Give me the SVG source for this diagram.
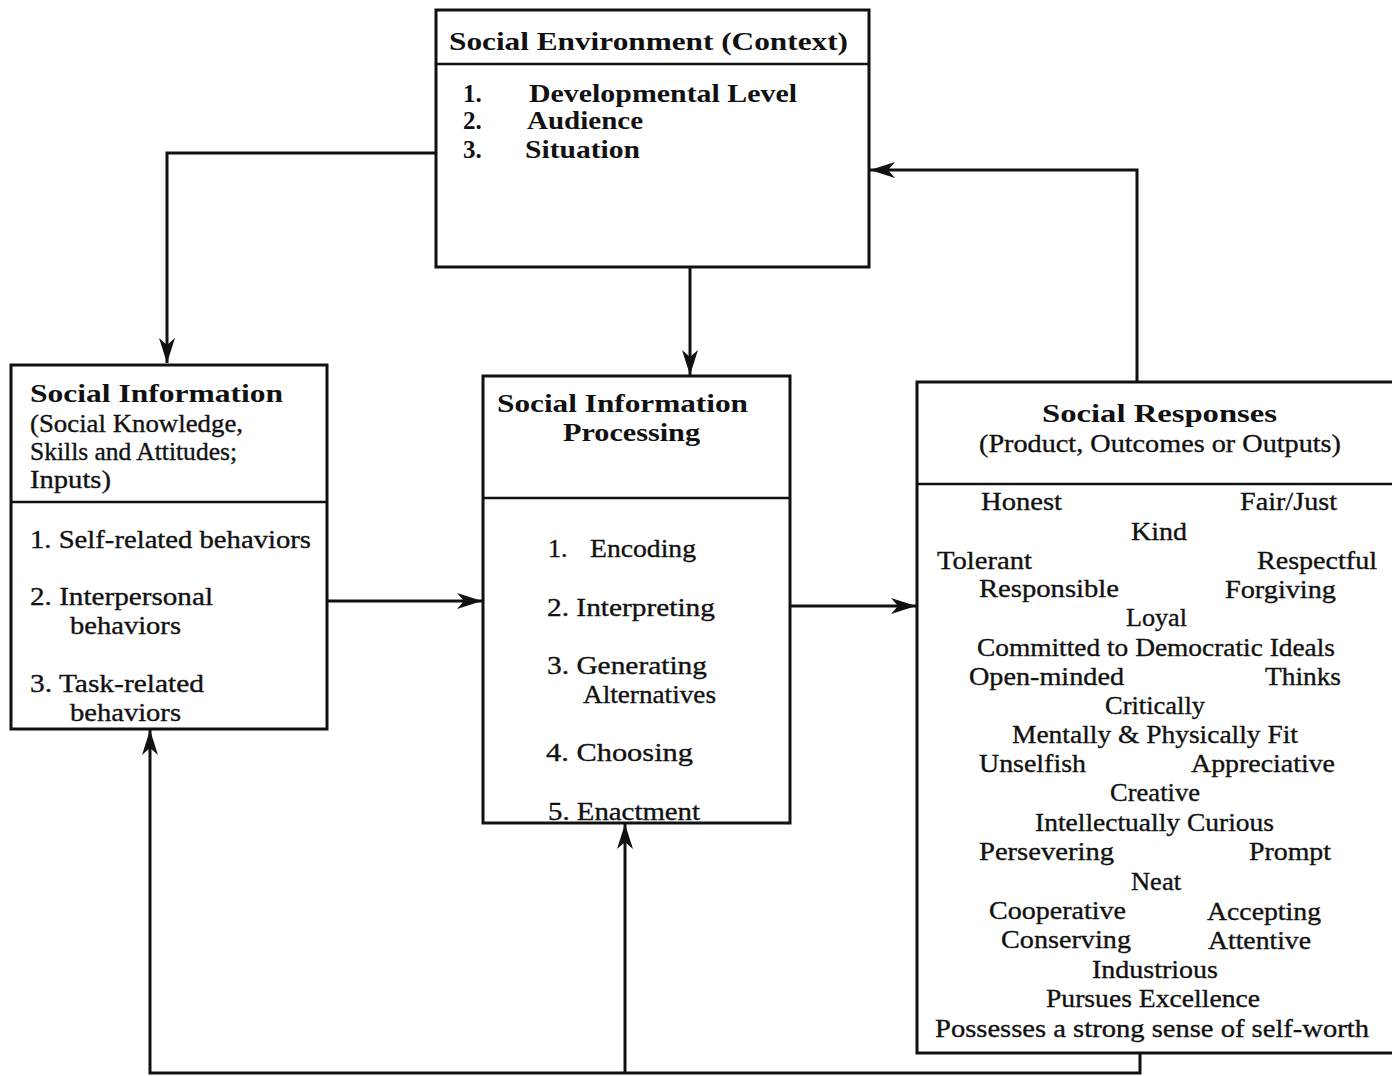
<svg xmlns="http://www.w3.org/2000/svg" width="1392" height="1076" viewBox="0 0 1392 1076">
<defs>
<style>
.box{fill:#fff;stroke:#111;stroke-width:3}
.div{stroke:#111;stroke-width:2.5;fill:none}
.con{stroke:#111;stroke-width:3;fill:none}
text{font-family:"Liberation Serif","Times New Roman",serif;fill:#111}
.h{font-weight:bold;font-size:26px}
.b{font-weight:bold;font-size:25px}
.t{font-size:26px;stroke:#111;stroke-width:0.35}
</style>
<marker id="arr" markerUnits="userSpaceOnUse" markerWidth="26" markerHeight="18" viewBox="0 0 26 18" refX="25" refY="9" orient="auto">
<path d="M0,1 L25,9 L0,17 L7,9 z" fill="#111"/>
</marker>
</defs>
<g id="connectors">
<path class="con" d="M435,153 H167 V363" marker-end="url(#arr)"/>
<path class="con" d="M690,267 V375" marker-end="url(#arr)"/>
<path class="con" d="M1137,382 V170 H870" marker-end="url(#arr)"/>
<path class="con" d="M327,601 H482" marker-end="url(#arr)"/>
<path class="con" d="M790,606 H916" marker-end="url(#arr)"/>
<path class="con" d="M1140,1053 V1073 H150 V730" marker-end="url(#arr)"/>
<path class="con" d="M625,1073 V824" marker-end="url(#arr)"/>
</g>
<g id="social-environment">
<rect class="box" x="436" y="10" width="433" height="257"/>
<line class="div" x1="436" y1="64" x2="869" y2="64"/>
<text class="h" x="449" y="50" textLength="399" lengthAdjust="spacingAndGlyphs">Social  Environment  (Context)</text>
<text class="b" x="463" y="102">1.</text>
<text class="b" x="529" y="102" textLength="268" lengthAdjust="spacingAndGlyphs">Developmental  Level</text>
<text class="b" x="463" y="129">2.</text>
<text class="b" x="527" y="129" textLength="116" lengthAdjust="spacingAndGlyphs">Audience</text>
<text class="b" x="463" y="158">3.</text>
<text class="b" x="525" y="158" textLength="115" lengthAdjust="spacingAndGlyphs">Situation</text>
</g>
<g id="social-information">
<rect class="box" x="11" y="365" width="316" height="364"/>
<line class="div" x1="11" y1="502" x2="327" y2="502"/>
<text class="b" x="30" y="402" textLength="253" lengthAdjust="spacingAndGlyphs">Social  Information</text>
<text class="t" x="30" y="432" textLength="213" lengthAdjust="spacingAndGlyphs">(Social Knowledge,</text>
<text class="t" x="30" y="460" textLength="207" lengthAdjust="spacingAndGlyphs">Skills and Attitudes;</text>
<text class="t" x="30" y="488" textLength="81" lengthAdjust="spacingAndGlyphs">Inputs)</text>
<text class="t" x="30" y="548" textLength="281" lengthAdjust="spacingAndGlyphs">1.  Self-related behaviors</text>
<text class="t" x="30" y="605" textLength="183" lengthAdjust="spacingAndGlyphs">2.  Interpersonal</text>
<text class="t" x="70" y="634" textLength="111" lengthAdjust="spacingAndGlyphs">behaviors</text>
<text class="t" x="30" y="692" textLength="174" lengthAdjust="spacingAndGlyphs">3.  Task-related</text>
<text class="t" x="70" y="721" textLength="111" lengthAdjust="spacingAndGlyphs">behaviors</text>
</g>
<g id="social-information-processing">
<rect class="box" x="483" y="376" width="307" height="447"/>
<line class="div" x1="483" y1="498" x2="790" y2="498"/>
<text class="b" x="497" y="412" textLength="251" lengthAdjust="spacingAndGlyphs">Social  Information</text>
<text class="b" x="563" y="441" textLength="137" lengthAdjust="spacingAndGlyphs">Processing</text>
<text class="t" x="548" y="557">1.</text>
<text class="t" x="590" y="557" textLength="106" lengthAdjust="spacingAndGlyphs">Encoding</text>
<text class="t" x="547" y="616" textLength="168" lengthAdjust="spacingAndGlyphs">2.  Interpreting</text>
<text class="t" x="547" y="674" textLength="160" lengthAdjust="spacingAndGlyphs">3.  Generating</text>
<text class="t" x="583" y="703" textLength="133" lengthAdjust="spacingAndGlyphs">Alternatives</text>
<text class="t" x="546" y="761" textLength="147" lengthAdjust="spacingAndGlyphs">4.  Choosing</text>
<text class="t" x="548" y="820" textLength="152" lengthAdjust="spacingAndGlyphs">5.  Enactment</text>
</g>
<g id="social-responses">
<rect class="box" x="917" y="382" width="490" height="671"/>
<line class="div" x1="917" y1="484" x2="1400" y2="484"/>
<text class="b" x="1042" y="422" textLength="235" lengthAdjust="spacingAndGlyphs">Social   Responses</text>
<text class="t" x="979" y="452" textLength="362" lengthAdjust="spacingAndGlyphs">(Product, Outcomes or Outputs)</text>
<text class="t" x="981" y="510" textLength="81" lengthAdjust="spacingAndGlyphs">Honest</text>
<text class="t" x="1240" y="510" textLength="97" lengthAdjust="spacingAndGlyphs">Fair/Just</text>
<text class="t" x="1131" y="540" textLength="56" lengthAdjust="spacingAndGlyphs">Kind</text>
<text class="t" x="937" y="569" textLength="95" lengthAdjust="spacingAndGlyphs">Tolerant</text>
<text class="t" x="1257" y="569" textLength="120" lengthAdjust="spacingAndGlyphs">Respectful</text>
<text class="t" x="979" y="597" textLength="140" lengthAdjust="spacingAndGlyphs">Responsible</text>
<text class="t" x="1225" y="598" textLength="111" lengthAdjust="spacingAndGlyphs">Forgiving</text>
<text class="t" x="1126" y="626" textLength="61" lengthAdjust="spacingAndGlyphs">Loyal</text>
<text class="t" x="977" y="656" textLength="358" lengthAdjust="spacingAndGlyphs">Committed to Democratic Ideals</text>
<text class="t" x="969" y="685" textLength="155" lengthAdjust="spacingAndGlyphs">Open-minded</text>
<text class="t" x="1265" y="685" textLength="76" lengthAdjust="spacingAndGlyphs">Thinks</text>
<text class="t" x="1105" y="714" textLength="100" lengthAdjust="spacingAndGlyphs">Critically</text>
<text class="t" x="1012" y="743" textLength="286" lengthAdjust="spacingAndGlyphs">Mentally &amp; Physically Fit</text>
<text class="t" x="979" y="772" textLength="107" lengthAdjust="spacingAndGlyphs">Unselfish</text>
<text class="t" x="1191" y="772" textLength="144" lengthAdjust="spacingAndGlyphs">Appreciative</text>
<text class="t" x="1110" y="801" textLength="90" lengthAdjust="spacingAndGlyphs">Creative</text>
<text class="t" x="1035" y="831" textLength="239" lengthAdjust="spacingAndGlyphs">Intellectually Curious</text>
<text class="t" x="979" y="860" textLength="135" lengthAdjust="spacingAndGlyphs">Persevering</text>
<text class="t" x="1249" y="860" textLength="82" lengthAdjust="spacingAndGlyphs">Prompt</text>
<text class="t" x="1131" y="890" textLength="50" lengthAdjust="spacingAndGlyphs">Neat</text>
<text class="t" x="989" y="919" textLength="137" lengthAdjust="spacingAndGlyphs">Cooperative</text>
<text class="t" x="1207" y="920" textLength="114" lengthAdjust="spacingAndGlyphs">Accepting</text>
<text class="t" x="1001" y="948" textLength="130" lengthAdjust="spacingAndGlyphs">Conserving</text>
<text class="t" x="1208" y="949" textLength="103" lengthAdjust="spacingAndGlyphs">Attentive</text>
<text class="t" x="1092" y="978" textLength="126" lengthAdjust="spacingAndGlyphs">Industrious</text>
<text class="t" x="1046" y="1007" textLength="214" lengthAdjust="spacingAndGlyphs">Pursues Excellence</text>
<text class="t" x="935" y="1037" textLength="434" lengthAdjust="spacingAndGlyphs">Possesses a strong sense of self-worth</text>
</g>
</svg>
